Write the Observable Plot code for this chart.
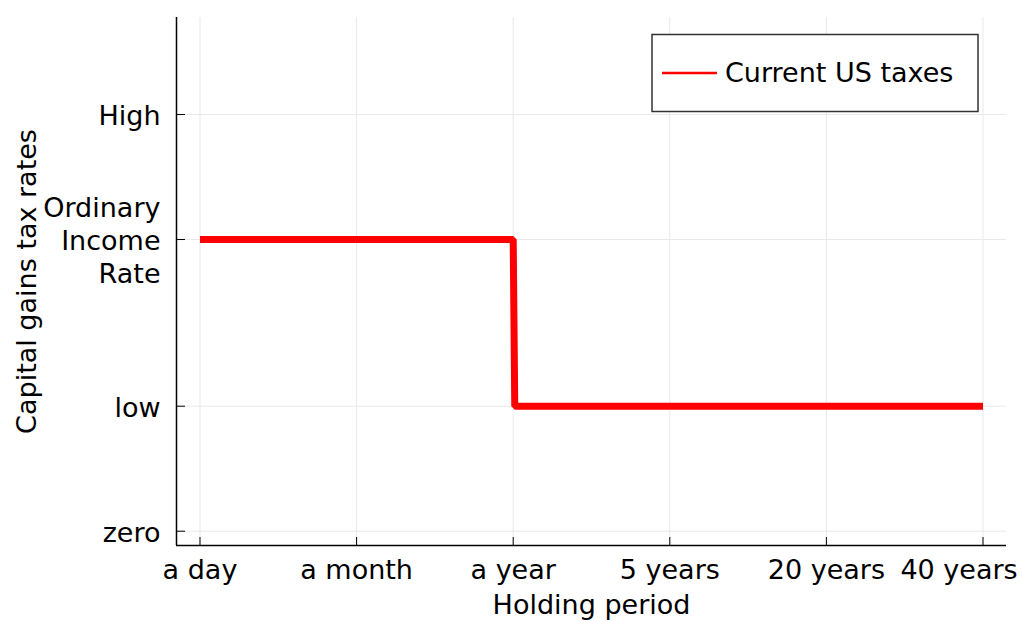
<!DOCTYPE html>
<html>
<head>
<meta charset="utf-8">
<script src="https://cdn.jsdelivr.net/npm/d3@7"></script>
<script src="https://cdn.jsdelivr.net/npm/@observablehq/plot@0.6"></script>
<style>
  html, body { margin: 0; padding: 0; background: #fff; }
  #chart { width: 1023px; height: 621px; }
</style>
</head>
<body>
<div id="chart"></div>
<script>
// Data
const holdingX = [0, 2, 2.01, 5];
const taxRate = [0.7, 0.7, 0.3, 0.3];
const seriesName = "Current US taxes";

const xTickValues = [0, 1, 2, 3, 4, 5];
const xTickLabels = ["a day", "a month", "a year", "5 years", "20 years", "40 years"];
const yTickValues = [0, 0.3, 0.7, 1];
const yTickLabels = ["zero", "low", "Ordinary\nIncome\nRate", "High"];

const xDomain = [-0.15, 5.15];
const yDomain = [-0.0343, 1.2328];

const data = holdingX.map((x, i) => ({x, y: taxRate[i]}));
const xLab = new Map(xTickValues.map((v, i) => [v, xTickLabels[i]]));
const yLab = new Map(yTickValues.map((v, i) => [v, yTickLabels[i]]));

const FONT = "DejaVu Sans";
const FS = 27;

const plot = Plot.plot({
  width: 1023,
  height: 621,
  marginLeft: 176,
  marginRight: 17,
  marginTop: 17,
  marginBottom: 76,
  style: {fontFamily: FONT, fontSize: FS + "px", background: "#fff", color: "#000"},
  x: {domain: xDomain},
  y: {domain: yDomain},
  marks: [
    Plot.gridX(xTickValues, {stroke: "#e9e9e9", strokeOpacity: 1, strokeWidth: 1}),
    Plot.gridY(yTickValues, {stroke: "#e9e9e9", strokeOpacity: 1, strokeWidth: 1}),
    // inward ticks
    Plot.axisX(xTickValues, {anchor: "bottom", tickSize: -8, tickFormat: () => "", label: null, stroke: "#000"}),
    Plot.axisY(yTickValues, {anchor: "left", tickSize: -9, tickFormat: () => "", label: null, stroke: "#000"}),
    // tick labels
    Plot.axisX(xTickValues.slice(0, 5), {anchor: "bottom", tickSize: 0, tickPadding: 14, tickFormat: d => xLab.get(d), label: null, fontSize: FS, fill: "#000"}),
    Plot.axisX(xTickValues.slice(5), {anchor: "bottom", tickSize: 0, tickPadding: 14, dx: -24, tickFormat: d => xLab.get(d), label: null, fontSize: FS, fill: "#000"}),
    Plot.axisY(yTickValues, {anchor: "left", tickSize: 0, tickPadding: 16, tickFormat: d => yLab.get(d), label: null, fontSize: FS, lineHeight: 1.22, fill: "#000"}),
    // axis lines
    Plot.ruleX([xDomain[0]], {stroke: "#000", strokeWidth: 1.5}),
    Plot.ruleY([yDomain[0]], {stroke: "#000", strokeWidth: 1.5}),
    // the series
    Plot.line(data, {x: "x", y: "y", stroke: "#ff0000", strokeWidth: 7, strokeLinecap: "butt", strokeLinejoin: "miter"}),
    // axis titles
    Plot.text(["Capital gains tax rates"], {frameAnchor: "left", rotate: -90, dx: -149, fontSize: FS, fill: "#000", lineAnchor: "middle", textAnchor: "middle"}),
    Plot.text(["Holding period"], {frameAnchor: "bottom", dy: 60, fontSize: FS, fill: "#000", lineAnchor: "middle", textAnchor: "middle"})
  ]
});

// Legend inside the plot area (top right)
const svg = d3.select(plot);
const lg = svg.append("g").attr("class", "legend");
lg.append("rect").attr("x", 652).attr("y", 34.5).attr("width", 326).attr("height", 77)
  .attr("fill", "#fff").attr("stroke", "#333").attr("stroke-width", 1.5);
lg.append("line").attr("x1", 662).attr("x2", 717).attr("y1", 73).attr("y2", 73)
  .attr("stroke", "#ff0000").attr("stroke-width", 2.5);
lg.append("text").attr("x", 725).attr("y", 73).attr("dy", "0.35em")
  .attr("text-anchor", "start")
  .attr("font-family", FONT).attr("font-size", FS).attr("fill", "#000").text(seriesName);

document.getElementById("chart").appendChild(plot);
</script>
</body>
</html>
